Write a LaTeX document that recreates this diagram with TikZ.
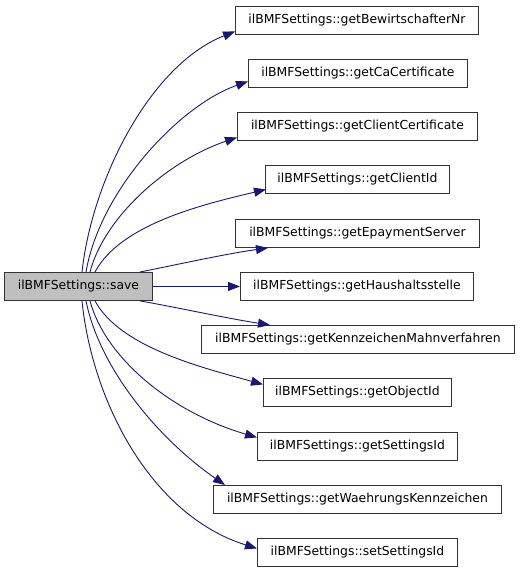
\documentclass[tikz,border=0pt]{standalone}
\usepackage{fontspec}
\setmainfont{DejaVu Sans}
\usetikzlibrary{arrows.meta,calc}
\definecolor{edgeblue}{HTML}{191970}
\definecolor{boxgray}{HTML}{BFBFBF}
\tikzset{
  fbox/.style={draw=black!80, line width=0.9pt, fill=white, inner sep=0pt, anchor=north west,
    minimum height=28pt, font=\fontsize{12.4pt}{14pt}\selectfont, text=black},
  calledge/.style={draw=edgeblue, line width=0.9pt, -{Triangle[length=12pt,width=9pt]}},
}
\begin{document}
\begin{tikzpicture}[x=1pt,y=-1pt]
\useasboundingbox (0,0) rectangle (520,573);
\node[fbox, fill=boxgray, minimum width=148pt] (save) at (4,272) {ilBMFSettings::save};
\node[fbox, minimum width=243pt] (n1) at (235,6) {ilBMFSettings::getBewirtschafterNr};
\node[fbox, minimum width=219pt] (n2) at (248,59) {ilBMFSettings::getCaCertificate};
\node[fbox, minimum width=240pt] (n3) at (237,112) {ilBMFSettings::getClientCertificate};
\node[fbox, minimum width=184pt] (n4) at (265,165) {ilBMFSettings::getClientId};
\node[fbox, minimum width=244pt] (n5) at (235,219) {ilBMFSettings::getEpaymentServer};
\node[fbox, minimum width=233pt] (n6) at (240,272) {ilBMFSettings::getHaushaltsstelle};
\node[fbox, minimum width=313pt] (n7) at (201,325) {ilBMFSettings::getKennzeichenMahnverfahren};
\node[fbox, minimum width=188pt] (n8) at (263,378) {ilBMFSettings::getObjectId};
\node[fbox, minimum width=200pt] (n9) at (257,432) {ilBMFSettings::getSettingsId};
\node[fbox, minimum width=288pt] (n10) at (213,485) {ilBMFSettings::getWaehrungsKennzeichen};
\node[fbox, minimum width=200pt] (n11) at (257,538) {ilBMFSettings::setSettingsId};
% start points on save box
\coordinate (s1) at ($(save.north west)+(78,0)$);
\coordinate (s2) at ($(save.north west)+(82,0)$);
\coordinate (s3) at ($(save.north west)+(86,0)$);
\coordinate (s4) at ($(save.north west)+(91,0)$);
\coordinate (s5) at ($(save.north west)+(136,0)$);
\coordinate (s7) at ($(save.south west)+(136,0)$);
\coordinate (s8) at ($(save.south west)+(91,0)$);
\coordinate (s9) at ($(save.south west)+(86,0)$);
\coordinate (s10) at ($(save.south west)+(82,0)$);
\coordinate (s11) at ($(save.south west)+(78,0)$);
% end points on callee boxes
\coordinate (t1) at ($(n1.west)+(0,11)$);
\coordinate (t2) at ($(n2.west)+(0,8)$);
\coordinate (t3) at ($(n3.west)+(0,11)$);
\coordinate (t4) at ($(n4.west)+(1,10)$);
\coordinate (t5) at ($(n5.south west)+(33,0)$);
\coordinate (t7) at ($(n7.north west)+(69,0)$);
\coordinate (t8) at ($(n8.west)+(0,-8)$);
\coordinate (t9) at ($(n9.west)+(0,-9)$);
\coordinate (t10) at ($(n10.north west)+(12,0)$);
\coordinate (t11) at ($(n11.west)+(0,-4)$);
\draw[calledge] (s1) .. controls (92,180) and (150,65) .. (t1);
\draw[calledge] (s2) .. controls (100,190) and (180,105) .. (t2);
\draw[calledge] (s3) .. controls (105,215) and (170,160) .. (t3);
\draw[calledge] (s4) .. controls (120,225) and (200,205) .. (t4);
\draw[calledge] (s5) .. controls (180,264) and (225,254) .. (t5);
\draw[calledge] (save.east) -- (n6.west);
\draw[calledge] (s7) .. controls (180,308) and (225,318) .. (t7);
\draw[calledge] (s8) .. controls (120,347) and (200,367) .. (t8);
\draw[calledge] (s9) .. controls (105,357) and (170,412) .. (t9);
\draw[calledge] (s10) .. controls (100,370) and (160,440) .. (t10);
\draw[calledge] (s11) .. controls (92,400) and (150,515) .. (t11);
\end{tikzpicture}
\end{document}
